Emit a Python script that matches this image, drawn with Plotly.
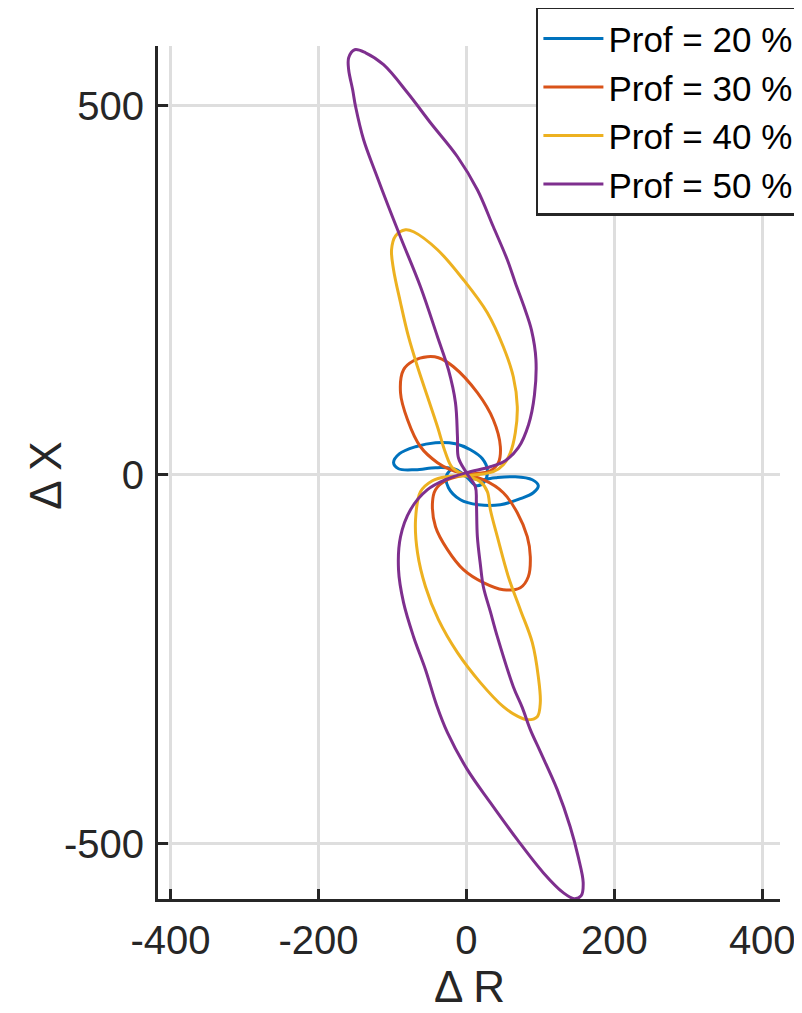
import plotly.graph_objects as go

labels = ["Prof = 20 %", "Prof = 30 %", "Prof = 40 %", "Prof = 50 %"]
colors = ["#0072BD", "#D95319", "#EDB120", "#7E2F8E"]

# Prof = 20 %
dR_20 = [0, -18.9, -41.8, -68.8, -91.8, -98.5, -90.4, -68.8, -41.8, -14.8, 5.4, 21.6, 28.3, 24.3, 13.5,
         0, -17.5, -27.0, -24.3, -8.1, 16.2, 45.9, 72.9, 90.4, 97.2, 89.1, 66.1, 39.1, 18.9, 0]
dX_20 = [-2.7, 8.1, 9.5, 6.8, 8.1, 16.3, 28.5, 37.9, 43.4, 42.0, 33.9, 21.7, 6.8, -9.5, -14.9,
         -2.7, 8.1, -1.4, -17.6, -33.9, -40.7, -40.7, -32.5, -24.4, -14.9, -6.8, -2.7, -4.1, -6.8, -2.7]

# Prof = 30 %
dR_30 = [0, 32.4, 43.2, 45.9, 36.4, 14.8, -17.5, -37.8, -52.6, -71.5, -85.0, -89.1, -79.6, -62.1, -39.1, -21.6,
         0, 22.9, 49.9, 68.8, 82.3, 86.4, 83.7, 72.9, 49.9, 22.9, -4.0, -25.6, -41.8, -45.9, -41.8, -28.3, 0]
dX_30 = [0, 5.4, 16.3, 37.9, 74.5, 111.1, 146.3, 158.5, 159.9, 154.5, 142.3, 111.1, 74.5, 37.9, 16.3, 6.8,
         0, -6.8, -24.4, -51.5, -84.0, -111.1, -138.2, -153.1, -155.8, -146.3, -128.7, -101.6, -70.5, -37.9, -20.3, -8.1, 0]

# Prof = 40 %
dR_40 = [0, 36.4, 49.9, 59.4, 66.1, 68.8, 63.4, 49.9, 28.3, -4.0, -39.1, -71.5, -82.3, -95.8, -101.2, -98.5,
         -89.1, -78.3, -66.1, -52.6, -39.1, -28.3, -18.9,
         0, 18.9, 28.3, 32.4, 41.8, 56.7, 72.9, 89.1, 97.2, 99.9, 95.8, 82.3, 70.2, 49.9, 18.9, -12.1,
         -37.8, -55.3, -66.1, -68.8, -62.1, -45.9, -27.0, 0]
dX_40 = [-1.4, 4.1, 13.6, 29.8, 56.9, 92.1, 132.8, 173.4, 219.5, 264.2, 304.9, 329.3, 332.0, 323.8, 304.9, 277.8,
         233.1, 187.0, 146.3, 105.7, 65.0, 29.8, 9.5,
         -1.4, -9.5, -23.0, -47.4, -84.0, -138.2, -182.9, -227.6, -273.7, -308.9, -327.9, -332.0, -327.9, -314.4, -281.8, -241.2,
         -196.5, -151.8, -105.7, -61.0, -23.0, -8.1, -2.7, -1.4]

# Prof = 50 %
dR_50 = [0, 32.4, 52.6, 70.2, 84.0, 92.0, 94.0, 88.0, 78.0, 66.1, 55.3, 36.4, 14.8, -12.1, -48.6, -79.6,
         -112.0, -136.3, -151.1, -159.2, -159.2, -153.8, -149.8, -139.0, -122.8, -105.3, -87.7, -62.1, -39.1,
         -24.3, -14.8, -12.1, -10.8,
         0, 12.1, 13.5, 14.8, 18.9, 22.9, 32.4, 41.8, 63.4, 75.6, 86.4, 99.9, 122.8, 140.3, 151.1, 157.9,
         155.2, 145.7, 130.9, 103.9, 68.8, 32.4, 1.3, -25.6, -40.5, -55.3, -71.5, -85.0, -91.8, -89.1,
         -75.6, -52.6, -28.3, 0]
dX_50 = [2.7, 10.8, 19.0, 36.6, 67.8, 108.0, 156.0, 196.0, 227.6, 260.2, 291.3, 336.0, 386.2, 430.9, 477.0, 517.6,
         555.6, 571.8, 575.9, 565.0, 548.8, 521.7, 498.6, 453.9, 409.2, 363.1, 318.4, 254.7, 187.0,
         142.3, 97.6, 51.5, 23.0,
         2.7, -16.3, -37.9, -84.0, -122.0, -151.8, -185.6, -219.5, -287.3, -315.7, -345.5, -375.3, -426.8, -477.0, -517.6, -552.8,
         -570.5, -574.5, -566.4, -539.3, -494.6, -444.4, -399.7, -349.6, -311.7, -264.2, -219.5, -173.4, -128.7, -84.0,
         -47.4, -20.3, -6.8, 2.7]

xticks = [-400, -200, 0, 200, 400]
xticklabels = ["-400", "-200", "0", "200", "400"]
yticks = [-500, 0, 500]
yticklabels = ["-500", "0", "500"]
xtitle = "Δ R"
ytitle = "Δ X"

series = [(dR_20, dX_20), (dR_30, dX_30), (dR_40, dX_40), (dR_50, dX_50)]

FONT = "Liberation Sans, Arial, Helvetica, sans-serif"
AX = "#262626"

fig = go.Figure()
for (xs, ys), name, col in zip(series, labels, colors):
    fig.add_trace(go.Scatter(x=xs, y=ys, mode="lines", name=name,
                             line=dict(color=col, width=3, shape="spline", smoothing=1.0)))

axis_common = dict(
    showline=True, linecolor=AX, linewidth=3, mirror=False,
    ticks="inside", ticklen=10, tickwidth=2.5, tickcolor=AX,
    showgrid=True, gridcolor="#dedede", gridwidth=2.5,
    zeroline=False,
    tickfont=dict(family=FONT, size=40, color=AX),
)

fig.update_layout(
    width=794, height=1005,
    margin=dict(l=150, r=22, t=38, b=114, autoexpand=False),
    paper_bgcolor="white", plot_bgcolor="white",
    font=dict(family=FONT, color=AX),
    xaxis=dict(range=[-417, 424], tickvals=xticks, ticktext=xticklabels, ticklabelstandoff=4,
               **axis_common),
    yaxis=dict(range=[-575, 581], tickvals=yticks, ticktext=yticklabels, ticklabelstandoff=3,
               **axis_common),
    legend=dict(x=1.032, xanchor="right", y=1.046, yanchor="top",
                bgcolor="white", bordercolor=AX, borderwidth=2.5,
                font=dict(family=FONT, size=35, color="black"),
                itemwidth=60, tracegroupgap=0),
    showlegend=True,
    annotations=[
        dict(text=xtitle, xref="paper", yref="paper", x=0.5, y=-0.103,
             xanchor="center", yanchor="middle", showarrow=False,
             font=dict(family=FONT, size=44, color=AX)),
        dict(text=ytitle, xref="paper", yref="paper", x=-0.182, y=0.497,
             xanchor="center", yanchor="middle", showarrow=False, textangle=-90,
             font=dict(family=FONT, size=44, color=AX)),
    ],
)

fig.write_html("out.html")
